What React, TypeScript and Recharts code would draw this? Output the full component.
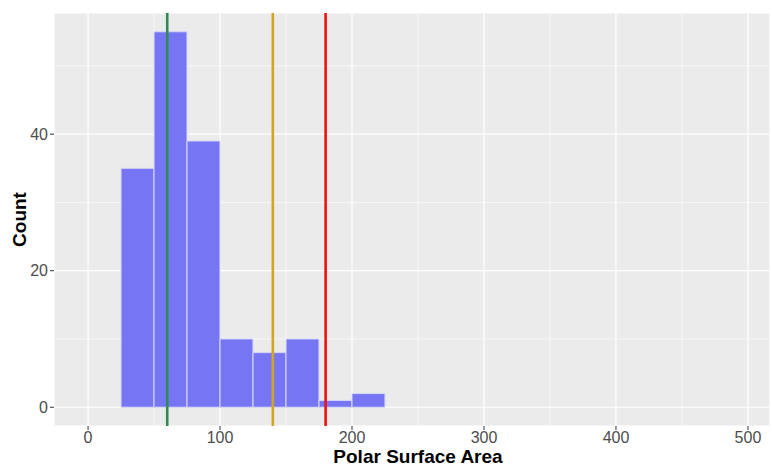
import {
  ComposedChart,
  Bar,
  XAxis,
  YAxis,
  CartesianGrid,
  ReferenceLine,
} from "recharts";

/* ------------------------------------------------------------------ */
/*  Data                                                               */
/* ------------------------------------------------------------------ */

const BIN_WIDTH = 25;
const binStarts = [25, 50, 75, 100, 125, 150, 175, 200];
const counts = [35, 55, 39, 10, 8, 10, 1, 2];

const xTicks = [0, 100, 200, 300, 400, 500];
const xMinor = [50, 150, 250, 350, 450];
const yTicks = [0, 20, 40];
const yMinor = [10, 30, 50];

const markers = [
  { x: 60, color: "#2E8B57" },
  { x: 140, color: "#D4A520" },
  { x: 180, color: "#F01010" },
];

const X_DOMAIN: [number, number] = [-25.8, 516.7];
const Y_DOMAIN: [number, number] = [-2.75, 57.75];

/* ------------------------------------------------------------------ */
/*  Layout                                                             */
/* ------------------------------------------------------------------ */

const W = 772;
const H = 467;
const MARGIN = { top: 13, right: 2, left: 0, bottom: 0 };
const Y_AXIS_W = 54;
const X_AXIS_H = 41;
const PLOT_W = W - MARGIN.left - MARGIN.right - Y_AXIS_W;

const FONT = "'Liberation Sans', Arial, sans-serif";
const tickStyle = { fontSize: 16, fill: "#4D4D4D", fontFamily: FONT };

const data = binStarts.map((s, i) => ({ mid: s + BIN_WIDTH / 2, count: counts[i] }));
// a hair under the band size, otherwise recharts falls back to 90% of the band
const barSize = (BIN_WIDTH * PLOT_W) / (X_DOMAIN[1] - X_DOMAIN[0]) - 0.05;

// minor grid positions: use the axis scale when recharts hands it over,
// otherwise map the domain onto the plot offset
function minorX({ xAxis, offset }: any) {
  if (xAxis && typeof xAxis.scale === "function") return xMinor.map((v) => xAxis.scale(v));
  return xMinor.map(
    (v) => offset.left + ((v - X_DOMAIN[0]) / (X_DOMAIN[1] - X_DOMAIN[0])) * offset.width
  );
}

function minorY({ yAxis, offset }: any) {
  if (yAxis && typeof yAxis.scale === "function") return yMinor.map((v) => yAxis.scale(v));
  return yMinor.map(
    (v) => offset.top + ((Y_DOMAIN[1] - v) / (Y_DOMAIN[1] - Y_DOMAIN[0])) * offset.height
  );
}

export default function App() {
  return (
    <div style={{ position: "absolute", left: 0, top: 0, width: W, height: H, background: "#fff" }}>
      <ComposedChart
        width={W}
        height={H}
        data={data}
        margin={MARGIN}
        barCategoryGap={0}
        barGap={0}
      >
        {/* panel + minor grid */}
        <CartesianGrid
          fill="#EBEBEB"
          stroke="#FFFFFF"
          strokeWidth={0.6}
          verticalCoordinatesGenerator={minorX}
          horizontalCoordinatesGenerator={minorY}
        />
        {/* major grid */}
        <CartesianGrid stroke="#FFFFFF" strokeWidth={1.2} />
        <XAxis
          dataKey="mid"
          type="number"
          domain={X_DOMAIN}
          ticks={xTicks}
          interval={0}
          allowDataOverflow
          height={X_AXIS_H}
          axisLine={false}
          tickLine={{ stroke: "#333333" }}
          tickSize={4}
          tickMargin={2}
          tick={tickStyle}
          label={({ viewBox }: any) => (
            <text
              x={viewBox.x + viewBox.width / 2 + 6}
              y={H - 4}
              textAnchor="middle"
              style={{ fontSize: 19, fontWeight: 700, fontFamily: FONT, fill: "#000" }}
            >
              Polar Surface Area
            </text>
          )}
        />
        <YAxis
          type="number"
          domain={Y_DOMAIN}
          ticks={yTicks}
          interval={0}
          allowDataOverflow
          width={Y_AXIS_W}
          axisLine={false}
          tickLine={{ stroke: "#333333" }}
          tickSize={4}
          tickMargin={2}
          tick={tickStyle}
          label={({ viewBox }: any) => (
            <text
              x={26}
              y={viewBox.y + viewBox.height / 2}
              textAnchor="middle"
              transform={`rotate(-90 26 ${viewBox.y + viewBox.height / 2})`}
              style={{ fontSize: 19, fontWeight: 700, fontFamily: FONT, fill: "#000" }}
            >
              Count
            </text>
          )}
        />
        <Bar
          dataKey="count"
          barSize={barSize}
          fill="#7676F5"
          stroke="#D8D8F5"
          strokeWidth={1}
          isAnimationActive={false}
        />
        {markers.map((m) => (
          <ReferenceLine key={m.x} x={m.x} stroke={m.color} strokeWidth={2.6} />
        ))}
      </ComposedChart>
    </div>
  );
}
